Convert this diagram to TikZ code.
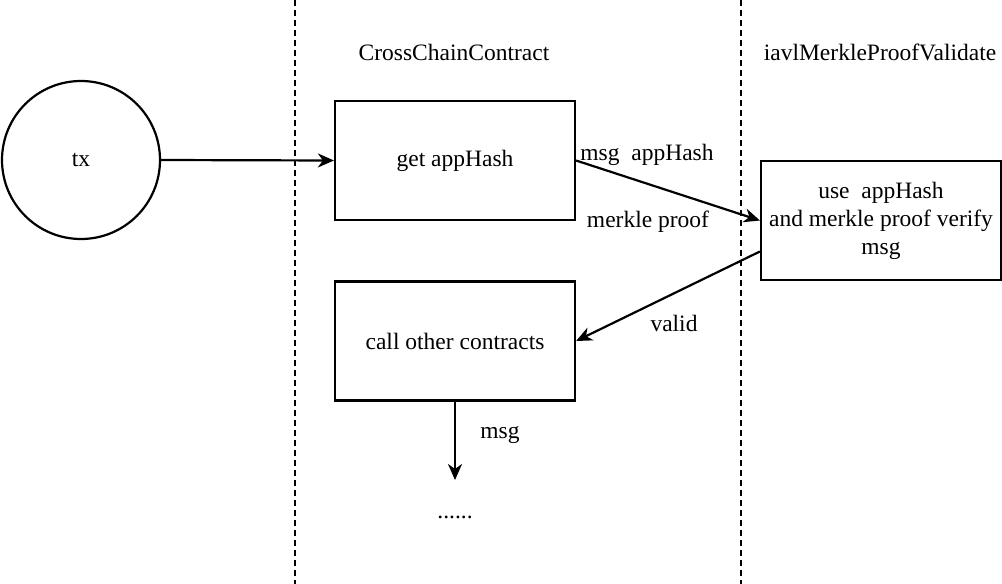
\documentclass[tikz,border=0pt]{standalone}
\usepackage{fontspec}
\setmainfont{LiberationSerif}[Extension=.ttf,UprightFont=*-Regular,BoldFont=*-Bold]
\usetikzlibrary{arrows.meta}
\begin{document}
\begin{tikzpicture}[x=1pt,y=-1pt,
  every node/.style={font=\fontsize{23.5}{28}\selectfont},
  box/.style={draw,line width=2.2pt,minimum width=240pt,minimum height=119pt,inner sep=0pt,align=center},
  conn/.style={line width=2.2pt,-{Stealth[length=16pt,width=14pt,inset=5pt]}},
  lane/.style={line width=1.8pt,dash pattern=on 6pt off 4pt},
  lbl/.style={inner sep=0pt}]
\useasboundingbox (0,0) rectangle (1002,584);
\coordinate (l1t) at (295,0); \coordinate (l1b) at (295,584);
\coordinate (l2t) at (741,0); \coordinate (l2b) at (741,584);
\draw[lane] (l1t) -- (l1b);
\draw[lane] (l2t) -- (l2b);
\node[draw,circle,line width=2.2pt,minimum size=158pt,inner sep=0pt] (tx) at (81,160) {tx};
\node[box] (get) at (455,160.5) {get appHash};
\node[box] (call) at (455,341) {call other contracts};
\node[box] (ver) at (881,220.5) {use\ \ appHash\\and merkle proof verify\\msg};
\node[lbl] (h1) at (454,52) {CrossChainContract};
\node[lbl] (h2) at (880,52) {iavlMerkleProofValidate};
\coordinate (dots) at (455,480);
\node[lbl] (more) at (455,517) {......};
\draw[conn] (tx.east) -- (get.west);
\draw[conn] (get.east) -- (ver.west);
\draw[conn] ([yshift=-31pt]ver.west) -- (call.east);
\draw[conn] (call.south) -- (dots);
\node[lbl] at (647,155) {msg\ \ appHash};
\node[lbl] at (648,222) {merkle proof};
\node[lbl] at (674,323) {valid};
\node[lbl] at (500,435) {msg};
\end{tikzpicture}
\end{document}
